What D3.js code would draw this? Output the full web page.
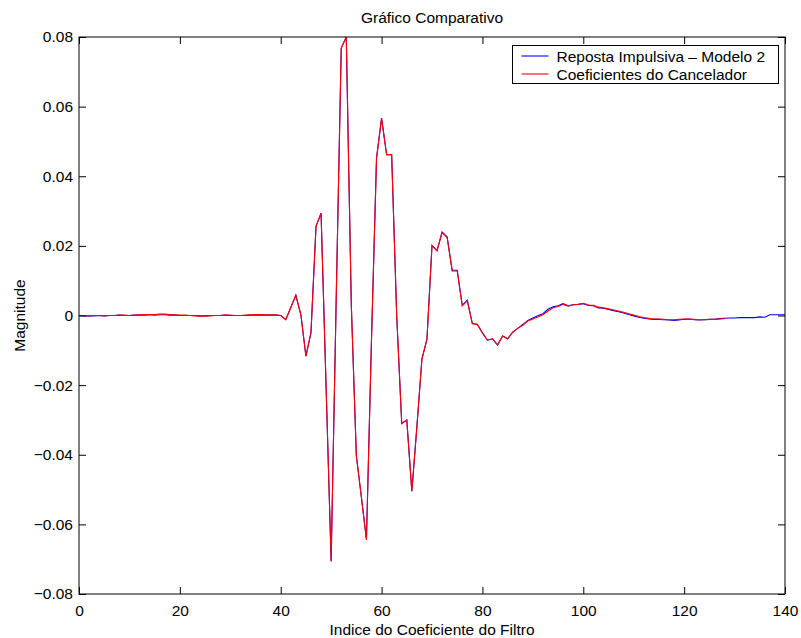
<!DOCTYPE html>
<html>
<head>
<meta charset="utf-8">
<script src="https://cdn.jsdelivr.net/npm/d3@7"></script>
<style>
	body { margin: 0; background: #fff; }
	svg { font-family: "Liberation Sans", Arial, Helvetica, sans-serif; }
</style>
</head>
<body>
<svg width="801" height="638"></svg>
<script>
// values (index 0..140)
var respostaY = [
	0, -0.0001, -0.0001, -0.0001, 0, -0.0001, 0, 0, 0.0001, 0,
	0, 0.0001, 0.0001, 0.0001, 0.0002, 0.0001, 0.0002, 0.0002, 0.0001, 0.0001,
	0, 0, 0, 0, -0.0001, -0.0001, 0, 0, 0, 0.0001,
	0, 0, 0, 0, 0.0001, 0.0001, 0.0001, 0.0001, 0.0001, 0.0001,
	0, -0.0012, 0.0023, 0.0058, 0.0002, -0.0117, -0.0049, 0.0256, 0.0294, -0.0205,
	-0.0706, 0.0045, 0.0768, 0.0800, 0.0030, -0.0403, -0.0522, -0.0644, -0.0070, 0.0452,
	0.0567, 0.0462, 0.0462, 0.0000, -0.0310, -0.0300, -0.0505, -0.0320, -0.0125, -0.0068,
	0.0201, 0.0186, 0.0240, 0.0226, 0.0130, 0.0130, 0.0029, 0.0044, -0.0023, -0.0025,
	-0.0050, -0.0071, -0.0067, -0.0085, -0.0059, -0.0067, -0.0048, -0.0037, -0.0026, -0.0014,
	-0.0007, -0.0001, 0.0005, 0.0018, 0.0025, 0.0028, 0.0034, 0.0028, 0.0031, 0.0032,
	0.0034, 0.0029, 0.0028, 0.0022, 0.0021, 0.0017, 0.0014, 0.0011, 0.0007, 0.0003,
	-0.0001, -0.0005, -0.0008, -0.0010, -0.0011, -0.0011, -0.0012, -0.0013, -0.0014, -0.0013,
	-0.0011, -0.0010, -0.0012, -0.0013, -0.0012, -0.0011, -0.0011, -0.0009, -0.0008, -0.0007,
	-0.0007, -0.0006, -0.0006, -0.0006, -0.0006, -0.0004, -0.0005, 0.0002, 0.0002, 0.0002,
	0.0002
];
// index 0..128
var cancelY = [
	0, 0, -0.0001, 0, 0, -0.0001, 0, 0, 0.0001, 0.0001,
	0, 0.0001, 0.0002, 0.0003, 0.0003, 0.0003, 0.0004, 0.0004, 0.0003, 0.0002,
	0.0001, 0.0001, 0, -0.0001, -0.0002, -0.0002, -0.0001, 0, 0, 0.0001,
	0.0001, 0, 0, 0.0001, 0.0002, 0.0003, 0.0003, 0.0002, 0.0002, 0.0002,
	0, -0.0012, 0.0023, 0.0058, 0.0002, -0.0117, -0.0049, 0.0256, 0.0294, -0.0205,
	-0.0706, 0.0045, 0.0768, 0.0800, 0.0030, -0.0403, -0.0522, -0.0644, -0.0070, 0.0452,
	0.0567, 0.0462, 0.0462, 0.0000, -0.0310, -0.0300, -0.0505, -0.0320, -0.0125, -0.0068,
	0.0201, 0.0186, 0.0238, 0.0224, 0.0128, 0.0128, 0.0028, 0.0042, -0.0024, -0.0026,
	-0.0050, -0.0071, -0.0067, -0.0085, -0.0059, -0.0067, -0.0048, -0.0037, -0.0028, -0.0016,
	-0.0010, -0.0004, 0.0002, 0.0013, 0.0022, 0.0026, 0.0032, 0.0027, 0.0031, 0.0032,
	0.0035, 0.0030, 0.0029, 0.0024, 0.0022, 0.0019, 0.0016, 0.0013, 0.0009, 0.0005,
	0.0001, -0.0003, -0.0006, -0.0008, -0.0010, -0.0010, -0.0011, -0.0012, -0.0012, -0.0011,
	-0.0010, -0.0010, -0.0011, -0.0012, -0.0012, -0.0011, -0.0011, -0.0010, -0.0009
];
var xTicks = [0, 20, 40, 60, 80, 100, 120, 140];
var yTicks = [-0.08, -0.06, -0.04, -0.02, 0, 0.02, 0.04, 0.06, 0.08];
var seriesNames = ["Reposta Impulsiva \u2013 Modelo 2", "Coeficientes do Cancelador"];
var seriesColors = ["#0000ff", "#ff0000"];

function drawChart() {
	var svg = d3.select("svg"),
		margin = { top: 37, right: 16, bottom: 44, left: 79 },
		width = +svg.attr("width") - margin.left - margin.right,
		height = +svg.attr("height") - margin.top - margin.bottom,
		g = svg.append("g").attr("transform", "translate(" + margin.left + "," + margin.top + ")");

	var fontSize = "15.5px";
	var x = d3.scaleLinear().domain([0, 140]).range([0, width]);
	var y = d3.scaleLinear().domain([-0.08, 0.08]).range([height, 0]);

	var fmt = function (d) { return d === 0 ? "0" : d3.format(".2f")(d).replace("-", "\u2212"); };

	// series (blue first, red on top)
	var line = d3.line()
		.x(function (d) { return x(d.i) })
		.y(function (d) { return y(d.v) });

	[respostaY, cancelY].forEach(function (arr, k) {
		g.append("path")
			.datum(arr.map(function (v, i) { return { i: i, v: v } }))
			.attr("fill", "none")
			.attr("stroke", seriesColors[k])
			.attr("stroke-width", 1.1)
			.attr("d", line);
	});

	// box
	g.append("rect")
		.attr("width", width).attr("height", height)
		.attr("fill", "none").attr("stroke", "black").attr("stroke-width", 1);

	// axes, ticks pointing inward on all four sides
	var xb = g.append("g")
		.attr("transform", "translate(0," + height + ")")
		.call(d3.axisBottom(x).tickValues(xTicks).tickSize(-7).tickPadding(11).tickFormat(d3.format("d")));
	var xt = g.append("g")
		.call(d3.axisTop(x).tickValues(xTicks).tickSize(-7).tickFormat(""));
	var yl = g.append("g")
		.call(d3.axisLeft(y).tickValues(yTicks).tickSize(-7).tickPadding(6).tickFormat(fmt));
	var yr = g.append("g")
		.attr("transform", "translate(" + width + ",0)")
		.call(d3.axisRight(y).tickValues(yTicks).tickSize(-7).tickFormat(""));

	[xb, xt, yl, yr].forEach(function (a) {
		a.select(".domain").remove();
		a.selectAll("line").attr("stroke", "black");
		a.selectAll("text").attr("font-size", fontSize).attr("font-family", null).attr("fill", "black");
	});

	// title and labels
	svg.append("text")
		.attr("x", margin.left + width / 2).attr("y", 23)
		.attr("text-anchor", "middle").attr("font-size", fontSize)
		.text("Gr\u00e1fico Comparativo");

	svg.append("text")
		.attr("x", margin.left + width / 2).attr("y", 635)
		.attr("text-anchor", "middle").attr("font-size", fontSize)
		.text("Indice do Coeficiente do Filtro");

	svg.append("text")
		.attr("transform", "translate(25," + (margin.top + height / 2) + ") rotate(-90)")
		.attr("text-anchor", "middle").attr("font-size", fontSize)
		.text("Magnitude");

	// legend
	var lg = svg.append("g").attr("transform", "translate(512.5,45.5)");
	lg.append("rect")
		.attr("width", 266).attr("height", 38)
		.attr("fill", "white").attr("stroke", "black").attr("stroke-width", 1);
	seriesNames.forEach(function (name, k) {
		var yy = 10.5 + k * 18;
		lg.append("line")
			.attr("x1", 9).attr("x2", 36).attr("y1", yy).attr("y2", yy)
			.attr("stroke", seriesColors[k]).attr("stroke-width", 1.1);
		lg.append("text")
			.attr("x", 44).attr("y", yy + 5.5)
			.attr("font-size", fontSize)
			.text(name);
	});
}

drawChart();
</script>
</body>
</html>
